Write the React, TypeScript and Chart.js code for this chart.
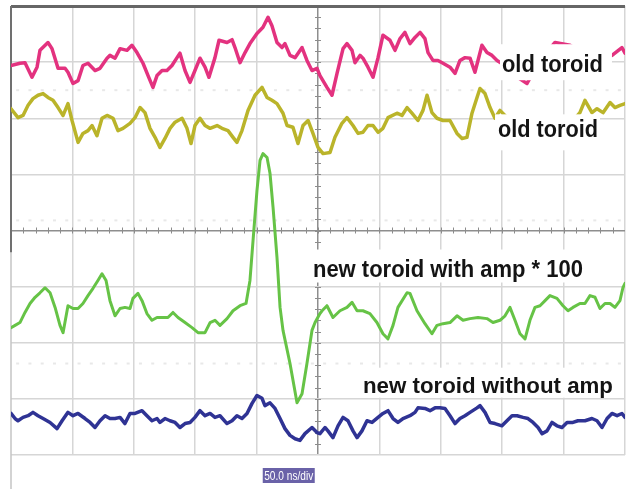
import React, { useEffect, useRef } from 'react';
import { Chart, registerables } from 'chart.js';

Chart.register(...registerables);

// time in ns (50 ns/div, trigger at 0), amplitude in screen divisions (centre = 0)
const oldToroidA: number[][] = [
  [-250, 2.94], [-242.7, 2.98], [-238.6, 2.99], [-232.9, 2.73], [-228.8, 2.91], [-226.4, 3.21], [-219.9, 3.35],
  [-216.6, 3.24], [-211.7, 2.89], [-206.0, 2.89], [-203.6, 2.82], [-199.5, 2.62], [-195.4, 2.67], [-191.4, 2.94],
  [-187.3, 2.98], [-181.6, 2.85], [-177.5, 2.89], [-171.8, 3.07], [-169.4, 3.12], [-165.3, 3.07], [-161.2, 3.24],
  [-155.5, 3.21], [-151.5, 3.30], [-147.4, 3.17], [-142.5, 2.98], [-138.4, 2.76], [-134.4, 2.55], [-131.1, 2.76],
  [-127.0, 2.85], [-123.0, 2.85], [-118.9, 2.94], [-114.8, 3.08], [-112.4, 3.16], [-108.3, 2.85], [-104.2, 2.64],
  [-100.2, 2.85], [-96.1, 3.07], [-92.0, 2.91], [-88.8, 2.73], [-83.9, 3.08], [-80.6, 3.39], [-74.1, 3.35],
  [-70.0, 3.40], [-67.6, 3.26], [-63.5, 2.99], [-59.4, 3.17], [-55.4, 3.33], [-49.7, 3.51], [-44.8, 3.62],
  [-40.7, 3.80], [-37.5, 3.65], [-33.4, 3.35], [-29.3, 3.26], [-26.9, 3.33], [-22.8, 3.12], [-18.7, 3.08],
  [-13.0, 3.26], [-9.0, 3.03], [-4.9, 2.85], [-0.8, 2.89], [1.6, 2.76], [7.3, 2.55], [11.4, 2.41], [15.5, 2.80],
  [20.4, 3.24], [23.6, 3.33], [27.7, 3.21], [30.1, 2.99], [34.2, 3.12], [36.6, 3.07], [40.7, 2.91], [44.8, 2.73],
  [48.9, 3.08], [52.9, 3.48], [58.6, 3.39], [62.7, 3.21], [66.8, 3.42], [70.8, 3.53], [74.9, 3.33], [79.0, 3.44],
  [83.1, 3.53], [87.1, 3.42], [89.6, 3.17], [93.6, 3.03], [97.7, 3.03], [101.8, 2.98], [107.5, 2.91], [111.6, 2.80],
  [115.6, 3.03], [119.7, 3.08], [123.8, 3.07], [127.8, 2.82], [133.5, 3.30], [137.6, 3.17], [141.7, 3.12],
  [145.8, 3.03], [152.3, 2.94], [160.4, 2.76], [170.2, 2.62], [180.8, 3.03], [193.0, 3.35], [205.2, 3.30],
  [217.4, 3.12], [229.6, 3.03], [239.4, 3.12], [247.5, 3.26], [250, 3.16],
];

const oldToroidB: number[][] = [
  [-250, 2.17], [-244.3, 2.01], [-240.2, 2.05], [-236.1, 2.23], [-232.1, 2.35], [-228.0, 2.41], [-223.9, 2.44],
  [-219.9, 2.37], [-215.8, 2.32], [-211.7, 2.19], [-207.6, 2.05], [-203.6, 2.26], [-200.3, 1.96], [-195.4, 1.57],
  [-191.4, 1.73], [-187.3, 1.78], [-184.0, 1.87], [-180.0, 1.69], [-175.9, 2.00], [-171.8, 2.05], [-166.9, 2.00],
  [-162.9, 1.78], [-158.8, 1.82], [-153.1, 1.91], [-149.0, 2.01], [-144.9, 2.19], [-140.9, 2.10], [-136.8, 1.82],
  [-132.7, 1.66], [-128.7, 1.48], [-124.6, 1.64], [-120.5, 1.82], [-116.4, 1.93], [-110.7, 2.00], [-106.7, 1.82],
  [-103.4, 1.55], [-100.2, 1.87], [-96.1, 2.00], [-92.0, 1.87], [-87.9, 1.82], [-82.2, 1.87], [-78.2, 1.82],
  [-73.3, 1.78], [-69.2, 1.66], [-66.0, 1.57], [-61.9, 1.78], [-57.0, 2.14], [-51.3, 2.41], [-45.6, 2.55],
  [-41.5, 2.37], [-37.5, 2.32], [-33.4, 2.26], [-28.5, 2.09], [-25.2, 1.87], [-20.4, 1.84], [-16.3, 1.55],
  [-12.2, 1.87], [-8.1, 1.96], [-4.1, 1.73], [0, 1.48], [4.1, 1.37], [9.8, 1.39], [13.8, 1.66], [19.5, 1.91],
  [23.6, 2.01], [28.5, 1.87], [32.6, 1.73], [36.6, 1.75], [40.7, 1.87], [44.8, 1.87], [48.9, 1.75], [52.9, 1.82],
  [57.0, 2.01], [64.3, 2.09], [68.4, 2.05], [72.5, 2.19], [76.5, 2.09], [81.4, 1.96], [85.5, 2.14], [88.8, 2.41],
  [92.8, 2.10], [96.9, 2.00], [101.8, 1.96], [107.5, 1.96], [113.2, 1.73], [117.3, 1.64], [121.3, 1.66],
  [125.4, 2.09], [129.5, 2.37], [131.9, 2.53], [136.0, 2.44], [140.1, 2.19], [144.1, 2.00], [148.2, 2.14],
  [156.3, 1.96], [172.6, 1.87], [188.9, 1.96], [205.2, 1.90], [213.3, 2.10], [217.4, 2.32], [223.1, 2.10],
  [227.2, 2.17], [232.1, 2.10], [237.8, 2.28], [241.8, 2.19], [245.9, 2.23], [250, 2.26],
];

const newToroidAmp: number[][] = [
  [-250, -1.73], [-246.7, -1.69], [-242.7, -1.64], [-238.6, -1.46], [-234.5, -1.30], [-230.4, -1.19], [-226.4, -1.11],
  [-222.3, -1.02], [-218.2, -1.11], [-214.1, -1.37], [-210.1, -1.69], [-207.6, -1.82], [-203.6, -1.34], [-199.5, -1.39],
  [-195.4, -1.39], [-191.4, -1.30], [-187.3, -1.16], [-183.2, -1.03], [-179.2, -0.89], [-175.9, -0.77], [-172.6, -0.89],
  [-169.4, -1.25], [-165.3, -1.52], [-161.2, -1.39], [-157.2, -1.37], [-153.1, -1.39], [-150.7, -1.21], [-146.6, -1.12],
  [-143.3, -1.25], [-139.3, -1.48], [-135.2, -1.60], [-131.1, -1.55], [-126.2, -1.55], [-122.2, -1.55], [-118.1, -1.46],
  [-114.0, -1.55], [-108.3, -1.64], [-102.6, -1.73], [-97.7, -1.82], [-92.0, -1.82], [-87.9, -1.64], [-83.9, -1.60],
  [-79.8, -1.69], [-74.1, -1.57], [-69.2, -1.43], [-63.5, -1.34], [-58.6, -1.30], [-55.4, -0.89], [-52.9, -0.18],
  [-49.7, 0.71], [-47.2, 1.25], [-44.8, 1.37], [-41.5, 1.30], [-39.1, 1.02], [-36.6, 0.41], [-33.4, -0.48],
  [-30.9, -1.37], [-28.5, -1.78], [-22.8, -2.37], [-17.1, -3.07], [-13.0, -2.91], [-9.0, -2.37], [-4.9, -1.78],
  [-2.4, -1.64], [1.6, -1.48], [3.3, -1.43], [7.3, -1.34], [12.2, -1.55], [17.9, -1.43], [23.6, -1.37], [27.7, -1.28],
  [31.8, -1.43], [36.6, -1.43], [42.3, -1.48], [48.0, -1.64], [52.9, -1.84], [57.0, -1.93], [61.1, -1.69],
  [65.1, -1.37], [72.5, -1.11], [74.9, -1.12], [80.6, -1.43], [87.1, -1.66], [92.8, -1.84], [96.9, -1.69],
  [101.8, -1.66], [107.5, -1.64], [113.2, -1.52], [118.1, -1.60], [123.8, -1.57], [130.3, -1.55], [137.6, -1.57],
  [142.5, -1.64], [148.2, -1.60], [152.3, -1.52], [156.3, -1.37], [160.4, -1.60], [164.5, -1.84], [168.6, -1.93],
  [172.6, -1.60], [176.7, -1.37], [180.8, -1.34], [184.9, -1.25], [188.9, -1.16], [194.6, -1.21], [199.5, -1.34],
  [203.6, -1.43], [207.6, -1.37], [213.3, -1.30], [217.4, -1.30], [221.5, -1.16], [225.6, -1.19], [229.6, -1.39],
  [233.7, -1.30], [237.8, -1.30], [241.8, -1.37], [245.9, -1.25], [248.3, -1.02], [250, -0.94],
];

const newToroidNoAmp: number[][] = [
  [-250, -3.26], [-246.7, -3.35], [-244.3, -3.39], [-240.2, -3.33], [-236.1, -3.30], [-232.1, -3.24], [-228.0, -3.30],
  [-223.9, -3.35], [-218.2, -3.42], [-212.5, -3.53], [-208.4, -3.39], [-203.6, -3.24], [-199.5, -3.30], [-195.4, -3.26],
  [-189.7, -3.35], [-185.6, -3.42], [-181.6, -3.51], [-177.5, -3.39], [-173.4, -3.30], [-169.4, -3.35], [-165.3, -3.35],
  [-161.2, -3.33], [-157.2, -3.44], [-153.1, -3.26], [-149.0, -3.26], [-143.3, -3.21], [-139.3, -3.30], [-135.2, -3.39],
  [-131.1, -3.35], [-128.7, -3.42], [-124.6, -3.35], [-120.5, -3.39], [-116.4, -3.42], [-112.4, -3.51], [-108.3, -3.44],
  [-104.2, -3.42], [-100.2, -3.33], [-96.1, -3.21], [-92.0, -3.30], [-87.9, -3.26], [-83.9, -3.33], [-79.8, -3.30],
  [-74.1, -3.44], [-70.0, -3.39], [-66.0, -3.30], [-61.9, -3.35], [-57.8, -3.26], [-53.7, -3.08], [-49.7, -2.94],
  [-45.6, -2.99], [-43.2, -3.12], [-39.1, -3.07], [-35.0, -3.17], [-30.9, -3.35], [-26.9, -3.53], [-22.8, -3.65],
  [-18.7, -3.71], [-14.7, -3.74], [-10.6, -3.62], [-4.9, -3.51], [-0.8, -3.60], [1.6, -3.62], [5.7, -3.51],
  [8.1, -3.57], [12.2, -3.69], [16.3, -3.48], [20.4, -3.33], [24.4, -3.39], [28.5, -3.57], [31.8, -3.69], [35.8, -3.57],
  [39.9, -3.39], [44.0, -3.42], [48.9, -3.33], [52.9, -3.26], [57.0, -3.21], [61.1, -3.35], [65.1, -3.42], [69.2, -3.35],
  [74.9, -3.30], [79.0, -3.24], [81.4, -3.16], [87.1, -3.17], [91.2, -3.21], [95.3, -3.16], [99.3, -3.16], [103.4, -3.17],
  [107.5, -3.30], [111.6, -3.44], [115.6, -3.35], [119.7, -3.30], [123.8, -3.24], [129.5, -3.16], [131.9, -3.12],
  [136.0, -3.24], [140.1, -3.42], [144.1, -3.44], [149.8, -3.48], [153.9, -3.39], [158.0, -3.30], [162.1, -3.30],
  [167.0, -3.33], [171.0, -3.35], [175.1, -3.42], [179.2, -3.51], [182.5, -3.62], [186.5, -3.57], [190.6, -3.42],
  [194.6, -3.48], [198.7, -3.51], [202.8, -3.42], [207.6, -3.42], [211.7, -3.39], [217.4, -3.39], [223.1, -3.35],
  [227.2, -3.39], [231.3, -3.51], [235.4, -3.35], [239.4, -3.26], [243.5, -3.30], [247.5, -3.26], [250, -3.33],
];

const labelTexts = ['old toroid', 'old toroid', 'new toroid with amp * 100', 'new toroid without amp'];
const timebaseText = '50.0 ns/div';
const markerLevels = [2.5, 0.18, -2.37];

const FONT = '"Liberation Sans", Arial, sans-serif';

// label layout: anchor (time, div) of baseline-left, font size, target width, white box offsets
const labelLayout = [
  { t: 149.8, v: 2.82, size: 24, w: 101, box: [-2, -28, 112, 36] },
  { t: 146.6, v: 1.66, size: 24, w: 100, box: [-3, -23, 105, 36] },
  { t: -4.1, v: -0.82, size: 23, w: 270, box: [-8, -27, 285, 33] },
  { t: 36.6, v: -2.89, size: 22, w: 250, box: [-8, -25, 265, 30] },
];

const scopePlugin = {
  id: 'scopeDecor',
  beforeDatasetsDraw(chart: any) {
    const { ctx, chartArea } = chart;
    const xs = chart.scales.x;
    const ys = chart.scales.y;
    ctx.save();
    // faint marker dotted rows
    ctx.fillStyle = '#e8e8e8';
    for (const lv of markerLevels) {
      const py = ys.getPixelForValue(lv);
      for (let t = -245; t <= 245; t += 10) {
        const px = xs.getPixelForValue(t);
        ctx.fillRect(px - 1, py - 1, 3, 2);
      }
    }
    // minor ticks on the centre axes
    const cx = xs.getPixelForValue(0);
    const cy = ys.getPixelForValue(0);
    ctx.strokeStyle = '#8c8c8c';
    ctx.lineWidth = 1;
    ctx.beginPath();
    for (let t = -240; t <= 240; t += 10) {
      const px = Math.round(xs.getPixelForValue(t)) + 0.5;
      ctx.moveTo(px, cy - 3);
      ctx.lineTo(px, cy + 3);
    }
    for (let i = -19; i <= 19; i++) {
      const py = Math.round(ys.getPixelForValue(i * 0.2)) + 0.5;
      ctx.moveTo(cx - 3, py);
      ctx.lineTo(cx + 3, py);
    }
    ctx.stroke();
    // left border: dark upper part, light extension to the bottom of the picture
    const lx = chartArea.left;
    ctx.strokeStyle = '#707070';
    ctx.lineWidth = 2;
    ctx.beginPath();
    ctx.moveTo(lx, chartArea.top);
    ctx.lineTo(lx, ys.getPixelForValue(-0.39));
    ctx.stroke();
    ctx.strokeStyle = '#c4c4c4';
    ctx.lineWidth = 1.5;
    ctx.beginPath();
    ctx.moveTo(lx, ys.getPixelForValue(-0.39));
    ctx.lineTo(lx, chart.height);
    ctx.stroke();
    ctx.restore();
  },
  afterDatasetsDraw(chart: any) {
    const { ctx, chartArea } = chart;
    const xs = chart.scales.x;
    const ys = chart.scales.y;
    ctx.save();
    labelLayout.forEach((L, i) => {
      const x = xs.getPixelForValue(L.t);
      const y = ys.getPixelForValue(L.v);
      ctx.fillStyle = '#ffffff';
      ctx.fillRect(x + L.box[0], y + L.box[1], L.box[2], L.box[3]);
      ctx.font = `bold ${L.size}px ${FONT}`;
      ctx.textBaseline = 'alphabetic';
      ctx.textAlign = 'left';
      const m = ctx.measureText(labelTexts[i]).width;
      ctx.save();
      ctx.translate(x, y);
      ctx.scale(L.w / m, 1);
      ctx.fillStyle = '#141414';
      ctx.fillText(labelTexts[i], 0, 0);
      ctx.restore();
    });
    // timebase box
    const bx = xs.getPixelForValue(-45);
    const by = chartArea.bottom + 13;
    ctx.fillStyle = '#6a62a8';
    ctx.fillRect(bx, by, 52, 15);
    ctx.font = `12px ${FONT}`;
    const tw = ctx.measureText(timebaseText).width;
    ctx.save();
    ctx.translate(bx + 26, by + 12);
    ctx.scale(49 / tw, 1);
    ctx.fillStyle = '#ffffff';
    ctx.textAlign = 'center';
    ctx.fillText(timebaseText, 0, 0);
    ctx.restore();
    ctx.restore();
  },
};

function toPoints(arr: number[][]) {
  return arr.map((p) => ({ x: p[0], y: p[1] }));
}

export default function App() {
  const ref = useRef<HTMLCanvasElement | null>(null);
  useEffect(() => {
    if (!ref.current) return;
    const mk = (data: number[][], color: string, w: number) => ({
      data: toPoints(data),
      borderColor: color,
      borderWidth: w,
      pointRadius: 0,
      tension: 0,
      fill: false,
      borderJoinStyle: 'round' as const,
      borderCapStyle: 'round' as const,
    });
    const chart = new Chart(ref.current, {
      type: 'line',
      data: {
        datasets: [
          mk(oldToroidA, '#e3327f', 3.5),
          mk(oldToroidB, '#bab42a', 3.5),
          mk(newToroidAmp, '#66c346', 3),
          mk(newToroidNoAmp, '#2f3394', 3.5),
        ],
      },
      options: {
        animation: false,
        responsive: false,
        devicePixelRatio: 1,
        layout: { padding: { left: 11, top: 6, right: 4, bottom: 34 } },
        plugins: { legend: { display: false }, tooltip: { enabled: false } },
        scales: {
          x: {
            type: 'linear',
            min: -250,
            max: 250,
            ticks: { display: false, stepSize: 50 },
            border: { display: false },
            grid: {
              drawTicks: false,
              color: (c: any) => (c.tick.value === 0 ? '#8e8e8e' : c.tick.value === -250 ? 'rgba(0,0,0,0)' : '#d6d6d6'),
              lineWidth: 1.5,
            },
          },
          y: {
            type: 'linear',
            min: -4,
            max: 4,
            ticks: { display: false, stepSize: 1 },
            border: { display: false },
            grid: {
              drawTicks: false,
              color: (c: any) => (c.tick.value === 4 ? '#666666' : c.tick.value === 0 ? '#8e8e8e' : '#d6d6d6'),
              lineWidth: (c: any) => (c.tick.value === 4 ? 3 : 1.5),
            },
          },
        },
      },
      plugins: [scopePlugin],
    });
    return () => chart.destroy();
  }, []);
  return (
    <div style={{ position: 'fixed', left: 0, top: 0, width: 629, height: 489, background: '#fff' }}>
      <canvas ref={ref} width={629} height={489} style={{ display: 'block' }} />
    </div>
  );
}
